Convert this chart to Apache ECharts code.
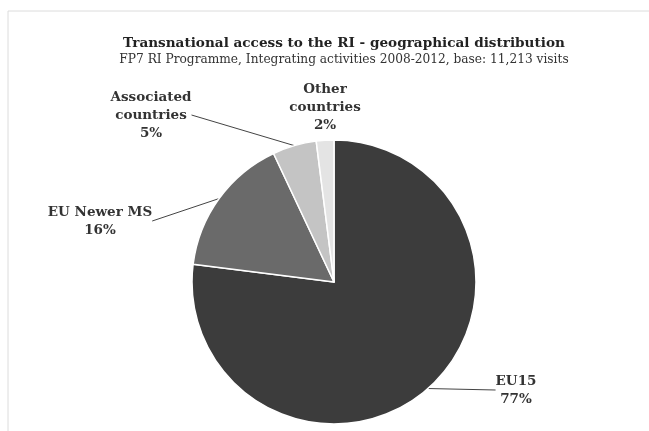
<!DOCTYPE html>
<html>
<head>
<meta charset="utf-8">
<script src="https://cdn.jsdelivr.net/npm/echarts@6/dist/echarts.min.js"></script>
<style>
  html, body { margin: 0; padding: 0; background: #fff; }
  #main { width: 649px; height: 431px; }
</style>
</head>
<body>
<div id="main"></div>
<script>
// 数据
var categories = ['EU15', 'EU Newer MS', 'Associated\ncountries', 'Other\ncountries'];
var shares = [77, 16, 5, 2];
var sliceColors = ['#3c3c3c', '#6a6a6a', '#c4c4c4', '#e4e4e4'];

// 标签位置 (文字块中心)
var labelPos = [
	{x: 516, y: 390},
	{x: 100, y: 221},
	{x: 151, y: 115},
	{x: 325, y: 107}
];

var chart = echarts.init(document.getElementById('main'));

var pieData = categories.map(function(name, i) {
	return {
		name: name,
		value: shares[i],
		itemStyle: { color: sliceColors[i] },
		labelLine: { show: i !== 3 }
	};
});

var option = {
	backgroundColor: '#fff',
	// 淡灰色边框
	graphic: [{
		type: 'polyline',
		silent: true,
		shape: { points: [[8, 440], [8, 11], [660, 11]] },
		style: { stroke: '#dcdcdc', lineWidth: 1, fill: null }
	}],
	title: {
		text: 'Transnational access to the RI - geographical distribution',
		subtext: 'FP7 RI Programme, Integrating activities 2008-2012, base: 11,213 visits',
		left: 339,
		textAlign: 'center',
		top: 31,
		itemGap: 4,
		textStyle: {
			fontFamily: 'DejaVu Serif',
			fontSize: 13.6,
			fontWeight: 'bold',
			color: '#222'
		},
		subtextStyle: {
			fontFamily: 'DejaVu Serif',
			fontSize: 12.2,
			color: '#333'
		}
	},
	series: [{
		type: 'pie',
		center: [334, 282],
		radius: 142,
		startAngle: 90,
		clockwise: true,
		silent: true,
		itemStyle: { borderColor: '#fff', borderWidth: 1.5 },
		label: {
			show: true,
			formatter: function(p) { return p.name + '\n' + p.value + '%'; },
			fontFamily: 'DejaVu Serif',
			fontWeight: 'bold',
			fontSize: 13.5,
			lineHeight: 18,
			color: '#333',
			align: 'center'
		},
		labelLine: {
			show: true,
			length: 0,
			length2: 0,
			smooth: false,
			lineStyle: { color: '#444', width: 1 }
		},
		labelLayout: function(params) {
			var p = labelPos[params.dataIndex];
			return {
				x: p.x,
				y: p.y,
				align: 'center',
				verticalAlign: 'middle'
			};
		},
		data: pieData
	}]
};

chart.setOption(option);
</script>
</body>
</html>
